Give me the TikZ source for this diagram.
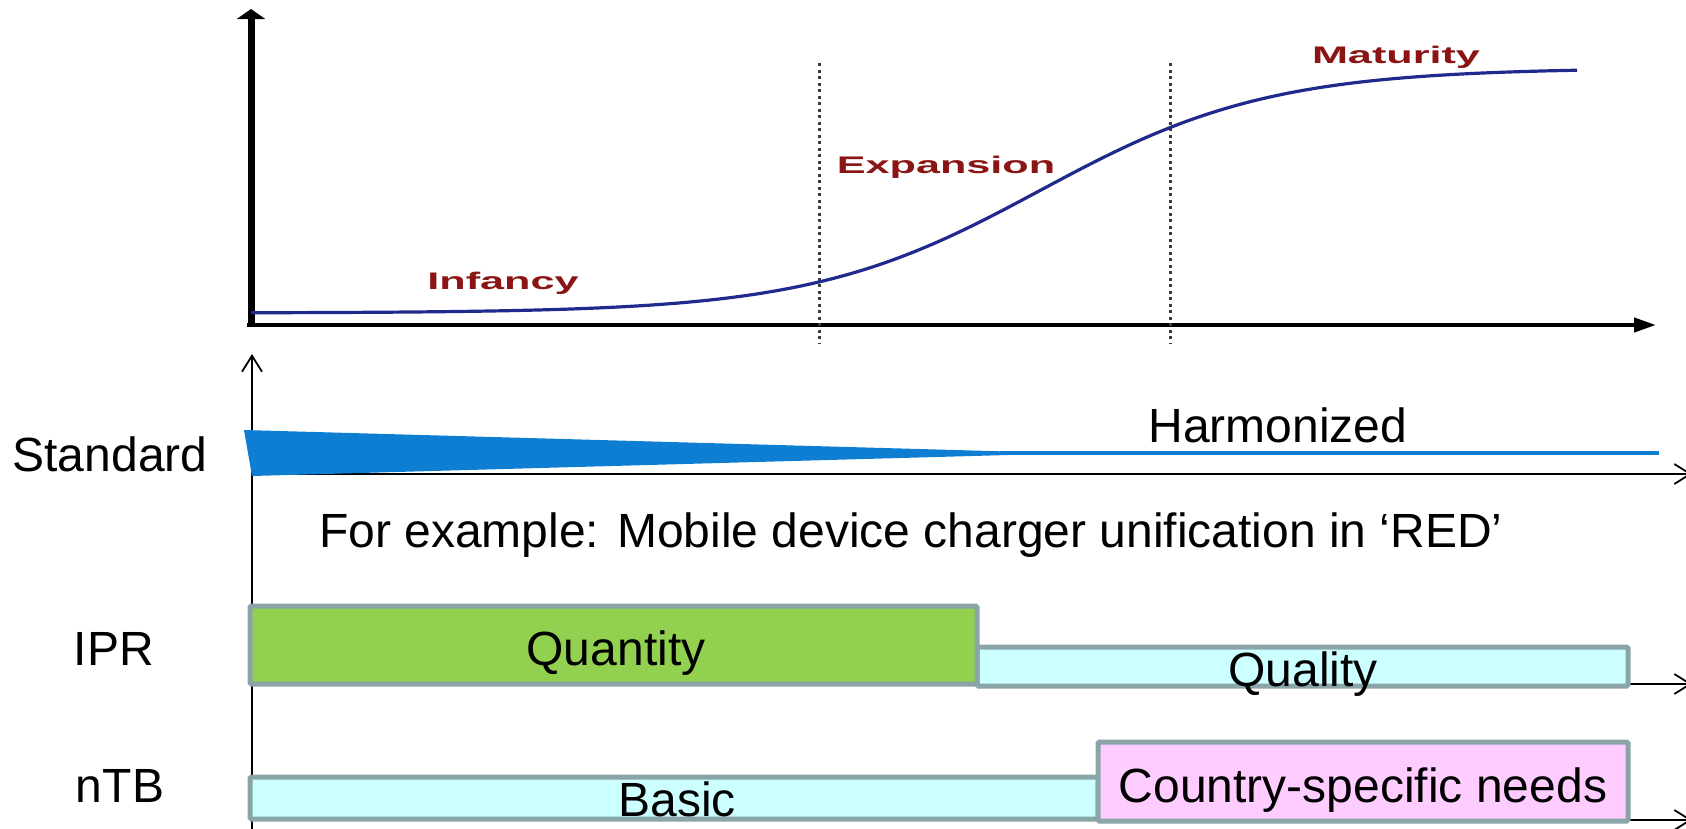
\documentclass[tikz,border=0pt]{standalone}
\usepackage{fontspec}
\setmainfont{Liberation Sans}
\usetikzlibrary{arrows.meta}
\definecolor{curveblue}{RGB}{32,42,140}
\definecolor{stagered}{RGB}{139,20,20}
\definecolor{stdblue}{RGB}{14,126,210}
\definecolor{boxedge}{RGB}{138,165,168}
\definecolor{qgreen}{RGB}{146,208,80}
\definecolor{lcyan}{RGB}{204,255,255}
\definecolor{lpink}{RGB}{255,204,255}
\definecolor{dotgray}{RGB}{60,60,60}
\begin{document}
\begin{tikzpicture}[x=1pt,y=-1pt,
  big/.style={font=\fontsize{48}{56}\selectfont, inner sep=0pt, anchor=base},
  stage/.style={font=\fontsize{24}{28}\selectfont\bfseries, text=stagered, inner sep=0pt, anchor=base},
  bar/.style={draw=boxedge, line width=5pt, rounded corners=1.5pt},
  thinaxis/.style={line width=1.8pt, -{Straight Barb[length=16pt,width=20pt,line width=1.8pt]}},
  phase/.style={draw=dotgray, line width=3pt, dash pattern=on 3pt off 3.5pt},
]
\useasboundingbox (0,0) rectangle (1686,828);

% ---------- top chart ----------
\coordinate (O) at (251,327);
\coordinate (Ytop) at (251,9);
\coordinate (X0) at (247,325);
\coordinate (Xend) at (1656,325);
\draw[line width=7pt, -{Triangle[width=28pt,length=10pt]}] (O) -- (Ytop);
\draw[line width=4pt, -{Triangle[width=14pt,length=22pt]}] (X0) -- (Xend);

\coordinate (d1t) at (819,63); \coordinate (d1b) at (819,343);
\coordinate (d2t) at (1170,63); \coordinate (d2b) at (1170,343);
\draw[phase] (d1t) -- (d1b);
\draw[phase] (d2t) -- (d2b);

\draw[curveblue, line width=3.2pt] plot[domain=251:1577, samples=200, smooth]
  (\x, {313-245/(1+exp(-(\x-1040)/114.5))});

\node[stage] (inf) at (503,289) {\scalebox{1.8}[1]{Infancy}};
\node[stage] (exp) at (946,173) {\scalebox{1.8}[1]{Expansion}};
\node[stage] (mat) at (1396,63) {\scalebox{1.8}[1]{Maturity}};

% ---------- bottom chart ----------
\coordinate (B0) at (252,830);
\coordinate (Btop) at (252,354);
\draw[thinaxis] (B0) -- (Btop);
\coordinate (S0) at (252,474); \coordinate (S1) at (1692,474);
\coordinate (I0) at (252,684); \coordinate (I1) at (1692,684);
\coordinate (N0) at (252,820); \coordinate (N1) at (1692,820);
\draw[thinaxis] (S0) -- (S1);
\draw[thinaxis] (I0) -- (I1);
\draw[thinaxis] (N0) -- (N1);

% standard wedge and harmonized line
\fill[stdblue] (244,430) -- (1008,451.5) -- (1008,455) -- (252,476) -- cycle;
\draw[stdblue, line width=3.5pt] (1000,453) -- (1659,453);

% bars
\draw[bar, fill=lcyan] (977,647) rectangle (1628,686);
\draw[bar, fill=qgreen] (250,606) rectangle (977,684);
\draw[bar, fill=lcyan] (250,777) rectangle (1098,819);
\draw[bar, fill=lpink] (1098,742) rectangle (1628,821);

% texts
\node[big] (std) at (110,471) {Standard};
\node[big] (harm) at (1278,442) {Harmonized};
\node[big, anchor=base west] (ex) at (319,547) {For example: Mobile device charger unification in ‘RED’};
\node[big] (ipr) at (114,665) {IPR};
\node[big] (qty) at (616,665) {Quantity};
\node[big] (qal) at (1303,686) {Quality};
\node[big] (ntb) at (120,802) {nTB};
\node[big] (bas) at (677,816) {Basic};
\node[big] (cty) at (1363,802) {Country-specific needs};
\end{tikzpicture}
\end{document}
